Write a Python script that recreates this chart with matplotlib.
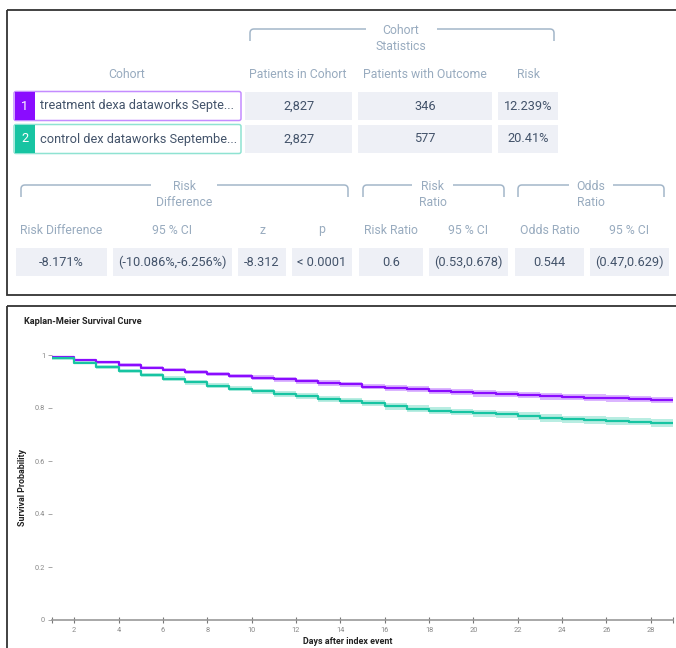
import matplotlib
matplotlib.use("Agg")
import matplotlib.pyplot as plt
from matplotlib.patches import Rectangle, FancyBboxPatch
from matplotlib.path import Path
from matplotlib.patches import PathPatch

plt.rcParams['font.family'] = ['Roboto', 'DejaVu Sans']

# ---- table data ----
cohort_names = ["treatment dexa dataworks Septe...", "control dex dataworks Septembe..."]
patients_in_cohort = ["2,827", "2,827"]
patients_with_outcome = ["346", "577"]
risk = ["12.239%", "20.41%"]

stat_headers = ["Risk Difference", "95 % CI", "z", "p",
                "Risk Ratio", "95 % CI", "Odds Ratio", "95 % CI"]
stat_values = ["-8.171%", "(-10.086%,-6.256%)", "-8.312", "< 0.0001",
               "0.6", "(0.53,0.678)", "0.544", "(0.47,0.629)"]

# ---- KM data (survival per day interval, day 1..28) ----
days = list(range(1, 30))
surv_treat = [0.992, 0.981, 0.972, 0.962, 0.952, 0.945, 0.937, 0.928, 0.922, 0.914,
              0.908, 0.901, 0.894, 0.889, 0.881, 0.874, 0.871, 0.864, 0.859, 0.855,
              0.852, 0.848, 0.844, 0.842, 0.839, 0.837, 0.834, 0.830]
surv_ctrl = [0.987, 0.971, 0.955, 0.940, 0.925, 0.911, 0.897, 0.884, 0.873, 0.863,
             0.853, 0.845, 0.835, 0.826, 0.818, 0.806, 0.797, 0.790, 0.785, 0.780,
             0.776, 0.770, 0.763, 0.757, 0.755, 0.752, 0.749, 0.743]
ci_treat = [0.003, 0.004, 0.005, 0.006, 0.006, 0.007, 0.007, 0.008, 0.008, 0.009,
            0.009, 0.009, 0.010, 0.010, 0.010, 0.011, 0.011, 0.011, 0.011, 0.012,
            0.012, 0.012, 0.012, 0.012, 0.013, 0.013, 0.013, 0.013]
ci_ctrl = [0.004, 0.005, 0.006, 0.007, 0.008, 0.008, 0.009, 0.009, 0.010, 0.010,
           0.011, 0.011, 0.011, 0.012, 0.012, 0.012, 0.013, 0.013, 0.013, 0.013,
           0.014, 0.014, 0.014, 0.014, 0.014, 0.015, 0.015, 0.015]

PURPLE = "#8a0cff"
TEAL = "#17c4a2"
HEAD = "#98abbf"
VAL = "#43536a"
CELL = "#eef0f6"
BRACE = "#a3b6c9"
HFS = 8.8   # header font size
VFS = 9.2   # value font size

W, H = 676, 648
fig = plt.figure(figsize=(W / 100, H / 100), dpi=100)
ov = fig.add_axes([0, 0, 1, 1])
ov.set_xlim(0, W)
ov.set_ylim(H, 0)
ov.axis("off")

# panel borders
for y0, y1 in [(10, 295), (306, 700)]:
    ov.add_patch(Rectangle((7, y0), 700, y1 - y0, fill=False, ec="#333333", lw=1.3))


def bracket(x0, x1, y, gap0, gap1, lines, cx):
    r = 4
    verts = [(x0, y + 12), (x0, y + r), (x0, y), (x0 + r, y), (gap0, y),
             (gap1, y), (x1 - r, y), (x1, y), (x1, y + r), (x1, y + 12)]
    codes = [Path.MOVETO, Path.LINETO, Path.CURVE3, Path.CURVE3, Path.LINETO,
             Path.MOVETO, Path.LINETO, Path.CURVE3, Path.CURVE3, Path.LINETO]
    ov.add_patch(PathPatch(Path(verts, codes), fill=False, ec=BRACE, lw=1.1))
    for i, t in enumerate(lines):
        ov.text(cx, y + 1 + i * 16, t, ha="center", va="center", fontsize=HFS, color=HEAD)


def cell(x0, x1, y0, y1, text):
    ov.add_patch(Rectangle((x0, y0), x1 - x0, y1 - y0, fc=CELL, ec="none"))
    ov.text((x0 + x1) / 2, (y0 + y1) / 2, text, ha="center", va="center",
            fontsize=VFS, color=VAL)


# cohort statistics section
bracket(250, 554, 29, 366, 437, ["Cohort", "Statistics"], 401)
for cx, t in [(127, "Cohort"), (298, "Patients in Cohort"),
              (425, "Patients with Outcome"), (528, "Risk")]:
    ov.text(cx, 74, t, ha="center", va="center", fontsize=HFS, color=HEAD)

row_y = [(92, 120), (125, 153)]
colors = [PURPLE, TEAL]
borders = ["#c48cff", "#8fe3d2"]
for i in range(2):
    y0, y1 = row_y[i]
    ov.add_patch(FancyBboxPatch((14, y0 - 0.5), 227, y1 - y0 + 1,
                                boxstyle="round,pad=0,rounding_size=2",
                                fc="white", ec=borders[i], lw=1.1))
    ov.add_patch(Rectangle((14.5, y0), 20, y1 - y0, fc=colors[i], ec="none"))
    ov.text(24.5, (y0 + y1) / 2, str(i + 1), ha="center", va="center",
            fontsize=VFS, color="white")
    ov.text(40, (y0 + y1) / 2, cohort_names[i], ha="left", va="center",
            fontsize=VFS, color=VAL)
    cell(245, 352, y0, y1, patients_in_cohort[i])
    cell(358, 492, y0, y1, patients_with_outcome[i])
    cell(498, 558, y0, y1, risk[i])

# measures of association section
bracket(21, 348, 185, 151, 217, ["Risk", "Difference"], 184)
bracket(363, 504, 185, 412, 453, ["Risk", "Ratio"], 433)
bracket(518, 664, 185, 569, 613, ["Odds", "Ratio"], 591)

cells_x = [(16, 107), (113, 232), (238, 286), (292, 352),
           (359, 423), (429, 508), (515, 584), (590, 669)]
for (x0, x1), hdr, v in zip(cells_x, stat_headers, stat_values):
    ov.text((x0 + x1) / 2, 230, hdr, ha="center", va="center", fontsize=HFS, color=HEAD)
    cell(x0, x1, 248, 276, v)

# ---- Kaplan-Meier chart ----
ax = fig.add_axes([52 / W, (H - 620) / H, (673 - 52) / W, 265 * 1.02 / H])
ax.set_xlim(1, 29)
ax.set_ylim(0, 1.02)
for surv, ci, c in [(surv_treat, ci_treat, PURPLE), (surv_ctrl, ci_ctrl, TEAL)]:
    y = surv + [surv[-1]]
    lo = [s - h for s, h in zip(surv, ci)] + [surv[-1] - ci[-1]]
    hi = [s + h for s, h in zip(surv, ci)] + [surv[-1] + ci[-1]]
    ax.fill_between(days, lo, hi, step="post", color=c, alpha=0.3, lw=0)
    ax.step(days, y, where="post", color=c, lw=1.6)

for s in ["top", "right", "left"]:
    ax.spines[s].set_visible(False)
ax.spines["bottom"].set_color("#999999")
ax.spines["bottom"].set_linewidth(1.2)
ax.set_xticks([1] + list(range(2, 29, 2)) + [29])
ax.set_xticklabels([""] + [str(d) for d in range(2, 29, 2)] + [""])
ax.set_yticks([0, 0.2, 0.4, 0.6, 0.8, 1])
ax.set_yticklabels(["0", "0.2", "0.4", "0.6", "0.8", "1"])
ax.tick_params(axis="x", direction="inout", length=4, width=0.8, color="#777777",
               labelsize=5.3, labelcolor="#888888", pad=3)
ax.tick_params(axis="y", direction="out", length=3, width=0.6, color="#999999",
               labelsize=5.3, labelcolor="#888888", pad=2)
ax.set_facecolor("none")

ov.text(24, 321, "Kaplan-Meier Survival Curve", ha="left", va="center",
        fontsize=6.6, fontweight="bold", color="#222222")
ov.text(348, 641, "Days after index event", ha="center", va="center",
        fontsize=6.4, fontweight="bold", color="#222222")
ov.text(23, 488, "Survival Probability", ha="center", va="center", rotation=90,
        fontsize=6.4, fontweight="bold", color="#222222")

fig.savefig("out.png", dpi=100)
